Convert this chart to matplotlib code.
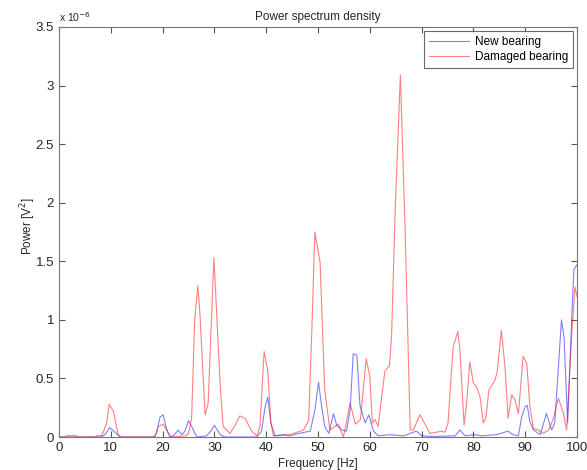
import matplotlib
matplotlib.use("Agg")
import matplotlib.pyplot as plt
from matplotlib.ticker import MultipleLocator, FuncFormatter

plt.rcParams['font.family'] = ['Liberation Sans', 'DejaVu Sans']

# Data (power in units of 1e-6 V^2)
freq_new = [0, 1.3, 1.5, 3.4, 3.6, 7.0, 7.3, 8.6, 9.2, 9.8, 10.8, 11.8, 18.3, 18.8, 19.5, 20.1,
            20.8, 21.6, 22.3, 23.0, 23.7, 24.3, 25.0, 25.6, 26.6, 28.5, 29.3, 30.0, 31.1, 32,
            38.2, 39.1, 39.8, 40.3, 40.9, 41.7, 43.3, 44.6, 46.2, 48.5, 49.4, 50.1, 50.7, 51.3,
            52.1, 53.0, 53.6, 54.6, 55.5, 56.2, 56.8, 57.5, 58.1, 59.1, 59.8, 60.7, 61.6, 63.9,
            66.5, 69.0, 70.0, 72.2, 76.5, 77.4, 78.4, 80.3, 81.6, 84.5, 86.7, 87.6, 88.7, 89.3,
            90.0, 90.4, 90.9, 91.6, 92.9, 94.1, 95.1, 95.7, 96.3, 97.0, 97.5, 98.2, 99.0, 99.4, 100]
power_new = [0, 0, 0.01, 0.01, 0, 0, 0.01, 0.01, 0.04, 0.08, 0.04, 0, 0, 0.03, 0.17, 0.19,
             0.06, 0, 0.02, 0.06, 0.02, 0.05, 0.14, 0.09, 0, 0.01, 0.05, 0.10, 0.02, 0,
             0, 0.05, 0.26, 0.34, 0.12, 0.01, 0.02, 0.01, 0.03, 0.05, 0.23, 0.47, 0.26, 0.09,
             0.03, 0.20, 0.10, 0.06, 0.05, 0.23, 0.71, 0.70, 0.27, 0.12, 0.19, 0.05, 0.01, 0.02,
             0.01, 0.05, 0.01, 0.005, 0.01, 0.06, 0.01, 0.02, 0.01, 0.02, 0.05, 0.02, 0.01, 0.17,
             0.26, 0.27, 0.13, 0.06, 0.02, 0.20, 0.06, 0.12, 0.52, 1.00, 0.85, 0.12, 1.03, 1.43, 1.47]

freq_dmg = [0, 8.2, 9.2, 9.7, 10.5, 11.4, 12, 18.5, 19.2, 20.1, 20.8, 21.4, 24.5, 25.0, 25.6,
            26.2, 26.8, 27.2, 28.2, 28.8, 29.3, 29.9, 30.5, 31.1, 31.7, 33.0, 34.0, 34.9, 35.9,
            37.2, 38.2, 38.8, 39.6, 40.3, 40.9, 41.4, 44.6, 47.2, 48.2, 48.8, 49.4, 50.4, 51.3,
            52.3, 53.9, 54.9, 56.2, 57.2, 58.2, 59.3, 60.0, 60.5, 61.0, 61.6, 62.9, 63.8, 64.2,
            64.9, 65.9, 66.8, 67.8, 68.4, 69.7, 71.6, 73.9, 74.5, 75.1, 75.7, 76.1, 77.0, 77.4,
            78.2, 78.7, 79.3, 80.0, 80.6, 81.3, 81.9, 82.4, 83.0, 84.2, 84.6, 85.4, 86.1, 86.7,
            87.4, 88.0, 88.7, 89.6, 90.3, 90.9, 91.6, 92.5, 93.4, 94.5, 95.4, 96.4, 97.4, 98.0,
            99.0, 99.6, 100]
power_dmg = [0, 0, 0.12, 0.28, 0.22, 0.02, 0, 0, 0.09, 0.11, 0.06, 0.0, 0.01, 0.03, 0.16,
             1.0, 1.29, 1.06, 0.19, 0.29, 0.86, 1.53, 1.0, 0.45, 0.09, 0.03, 0.10, 0.18, 0.16,
             0.05, 0.01, 0.09, 0.73, 0.57, 0.12, 0.01, 0.02, 0.06, 0.14, 0.9, 1.75, 1.49, 0.40,
             0.06, 0.11, 0.0, 0.29, 0.11, 0.15, 0.67, 0.52, 0.12, 0.15, 0.09, 0.56, 0.61, 0.86,
             1.94, 3.09, 1.80, 0.06, 0.06, 0.19, 0.03, 0.05, 0.04, 0.12, 0.52, 0.77, 0.90, 0.74,
             0.10, 0.29, 0.64, 0.46, 0.43, 0.34, 0.12, 0.16, 0.40, 0.49, 0.56, 0.91, 0.60, 0.16,
             0.36, 0.32, 0.20, 0.69, 0.63, 0.26, 0.07, 0.06, 0.03, 0.06, 0.15, 0.33, 0.20, 0.06,
             0.89, 1.28, 1.20]

fig = plt.figure(figsize=(5.87, 4.70), dpi=100)
ax = fig.add_axes([59/587, 1-437/470, (577-59)/587, (437-27)/470])

ax.plot(freq_new, power_new, color='#0000ff', alpha=0.5, lw=0.8, label='New bearing')
ax.plot(freq_dmg, power_dmg, color='#ff0000', alpha=0.5, lw=0.8, label='Damaged bearing')

ax.set_xlim(0, 100)
ax.set_ylim(0, 3.5)
ax.xaxis.set_major_locator(MultipleLocator(10))
ax.yaxis.set_major_locator(MultipleLocator(0.5))
ax.yaxis.set_major_formatter(FuncFormatter(lambda v, p: ('%g' % v)))
ax.tick_params(direction='in', top=True, right=True, labelsize=9.5, length=4,
               color='#555555', labelcolor='#262626')
for s in ax.spines.values():
    s.set_color('#777777')
    s.set_linewidth(0.8)

ax.set_title('Power spectrum density', fontsize=8.5, color='#262626', pad=5)
ax.set_xlabel('Frequency [Hz]', fontsize=8.5, color='#262626', labelpad=3)
ax.set_ylabel('Power [V$^2$]', fontsize=8.5, color='#262626')
ax.yaxis.set_label_coords(-0.04, 0.515)
ax.text(0.0, 1.008, r'x 10$^{-6}$', transform=ax.transAxes, fontsize=7.5,
        color='#262626', ha='left', va='bottom')

leg = ax.legend(loc='upper right', fontsize=8.5, frameon=True, fancybox=False,
                borderaxespad=0.35, handlelength=3.4, borderpad=0.4, labelspacing=0.25,
                handletextpad=0.5)
leg.get_frame().set_edgecolor('#444444')
leg.get_frame().set_linewidth(0.8)

fig.savefig('out.png', dpi=100)
